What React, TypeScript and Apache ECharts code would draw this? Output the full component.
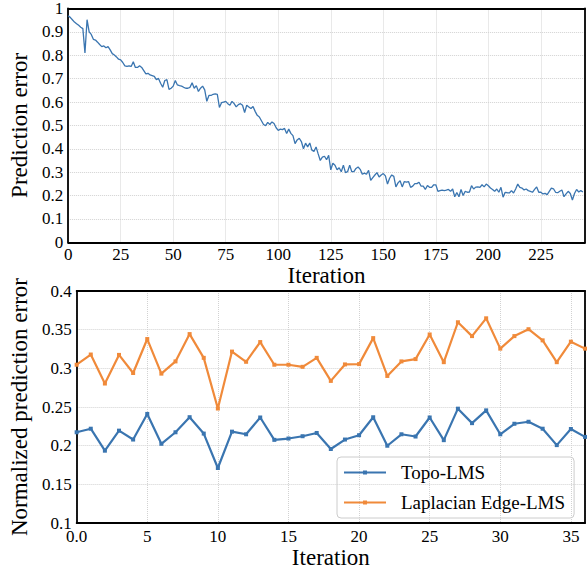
import { useEffect, useRef } from 'react';
import * as echarts from 'echarts';

// Top panel: prediction error per iteration (index = iteration)
const topError = [
  0.969, 0.962, 0.952, 0.942, 0.935, 0.928, 0.92, 0.914, 0.81, 0.952,
  0.9, 0.889, 0.868, 0.865, 0.856, 0.846, 0.837, 0.84, 0.832, 0.837,
  0.823, 0.807, 0.801, 0.793, 0.783, 0.78, 0.769, 0.755, 0.752, 0.755,
  0.752, 0.772, 0.748, 0.748, 0.755, 0.748, 0.734, 0.72, 0.723, 0.716,
  0.713, 0.71, 0.696, 0.701, 0.68, 0.663, 0.692, 0.696, 0.654, 0.659,
  0.668, 0.692, 0.673, 0.67, 0.668, 0.663, 0.659, 0.659, 0.663, 0.682,
  0.659, 0.67, 0.645, 0.659, 0.668, 0.652, 0.603, 0.628, 0.628, 0.633,
  0.635, 0.633, 0.577, 0.597, 0.6, 0.603, 0.593, 0.586, 0.603, 0.593,
  0.579, 0.589, 0.593, 0.586, 0.555, 0.586, 0.579, 0.572, 0.581, 0.56,
  0.543, 0.536, 0.52, 0.504, 0.499, 0.513, 0.504, 0.515, 0.508, 0.49,
  0.479, 0.484, 0.482, 0.487, 0.465, 0.484, 0.466, 0.456, 0.422, 0.438,
  0.445, 0.431, 0.4, 0.424, 0.408, 0.425, 0.394, 0.389, 0.408, 0.378,
  0.35, 0.364, 0.368, 0.353, 0.372, 0.31, 0.338, 0.33, 0.31, 0.319,
  0.302, 0.33, 0.298, 0.302, 0.33, 0.302, 0.302, 0.316, 0.322, 0.312,
  0.291, 0.296, 0.291, 0.308, 0.265, 0.277, 0.288, 0.298, 0.279, 0.288,
  0.294, 0.284, 0.249, 0.274, 0.288, 0.282, 0.237, 0.254, 0.263, 0.237,
  0.26, 0.257, 0.26, 0.235, 0.24, 0.251, 0.251, 0.257, 0.24, 0.24,
  0.226, 0.243, 0.235, 0.235, 0.246, 0.246, 0.218, 0.221, 0.223, 0.221,
  0.223, 0.226, 0.218, 0.228, 0.195, 0.213, 0.195, 0.226, 0.2, 0.218,
  0.214, 0.215, 0.242, 0.228, 0.236, 0.237, 0.235, 0.246, 0.237, 0.249,
  0.242, 0.232, 0.226, 0.218, 0.228, 0.214, 0.235, 0.193, 0.214, 0.212,
  0.211, 0.221, 0.211, 0.228, 0.249, 0.235, 0.232, 0.224, 0.228, 0.221,
  0.218, 0.214, 0.226, 0.237, 0.214, 0.214, 0.207, 0.209, 0.204, 0.218,
  0.232, 0.229, 0.214, 0.212, 0.218, 0.224, 0.195, 0.207, 0.218, 0.209,
  0.181, 0.209, 0.226, 0.215, 0.221, 0.215,
];

// Bottom panel
const bottomIterations = [
  0, 1, 2, 3, 4, 5, 6, 7, 8, 9, 10, 11, 12, 13, 14, 15, 16, 17, 18, 19,
  20, 21, 22, 23, 24, 25, 26, 27, 28, 29, 30, 31, 32, 33, 34, 35, 36,
];
const topoLMS = [
  0.2174, 0.222, 0.1936, 0.2195, 0.208, 0.2411, 0.2025, 0.2174, 0.2369, 0.2157,
  0.1712, 0.2182, 0.2148, 0.2365, 0.2076, 0.2093, 0.2123, 0.2165, 0.1958, 0.208,
  0.2136, 0.2368, 0.2, 0.2148, 0.2119, 0.2365, 0.2072, 0.2479, 0.2292, 0.2457,
  0.2148, 0.2284, 0.231, 0.222, 0.2008, 0.2216, 0.2114,
];
const laplacianEdgeLMS = [
  0.3047, 0.3179, 0.2804, 0.3174, 0.294, 0.3379, 0.2932, 0.309, 0.3443, 0.3136,
  0.2481, 0.3217, 0.3085, 0.334, 0.3047, 0.3047, 0.302, 0.3136, 0.2838, 0.3051,
  0.3055, 0.3391, 0.2902, 0.309, 0.312, 0.3438, 0.308, 0.3596, 0.3417, 0.3647,
  0.3255, 0.3417, 0.3506, 0.3362, 0.308, 0.3345, 0.3255,
];

const BLUE = '#3a75b0';
const ORANGE = '#f08a3a';
const FONT = 'Liberation Serif';

export default function App() {
  const ref = useRef<HTMLDivElement>(null);

  useEffect(() => {
    if (!ref.current) return;
    const chart = echarts.init(ref.current, undefined, { renderer: 'svg' });

    const gridLine = { show: true, lineStyle: { color: '#d2d2d2', type: 'dotted' as const, width: 1 } };
    const axisLabel = { color: '#000', fontFamily: FONT, fontSize: 17, fontWeight: 'normal' as const };
    const frameLine = { show: true, onZero: false, lineStyle: { color: '#000', width: 1.8 } };
    const nameStyle = { color: '#000', fontFamily: FONT, fontSize: 23, fontWeight: 'normal' as const };

    const topSeriesData = topError.map((v, i) => [i, v]);

    chart.setOption({
      animation: false,
      grid: [
        { left: 60, top: 5, right: 1.5, height: 237.3 },
        { left: 60, top: 291, right: 2, height: 236.7 },
      ],
      xAxis: [
        {
          type: 'value', gridIndex: 0, min: 0, max: 246, interval: 25,
          axisLine: frameLine, axisTick: { show: false },
          axisLabel: { ...axisLabel, margin: 4, formatter: (v: number) => (v > 240 ? '' : String(v)) },
          splitLine: gridLine,
          name: 'Iteration', nameLocation: 'middle', nameGap: 19, nameTextStyle: nameStyle,
        },
        {
          type: 'value', gridIndex: 0, position: 'top', min: 0, max: 246,
          axisLine: frameLine, axisTick: { show: false }, axisLabel: { show: false }, splitLine: { show: false },
        },
        {
          type: 'value', gridIndex: 1, min: 0, max: 36, interval: 5,
          axisLine: frameLine, axisTick: { show: false },
          axisLabel: { ...axisLabel, margin: 5, formatter: (v: number) => (v === 0 ? '0.0' : v === 36 ? '' : String(v)) },
          splitLine: gridLine,
          name: 'Iteration', nameLocation: 'middle', nameGap: 20, nameTextStyle: nameStyle,
        },
        {
          type: 'value', gridIndex: 1, position: 'top', min: 0, max: 36,
          axisLine: frameLine, axisTick: { show: false }, axisLabel: { show: false }, splitLine: { show: false },
        },
      ],
      yAxis: [
        {
          type: 'value', gridIndex: 0, min: 0, max: 1, interval: 0.1,
          axisLine: frameLine, axisTick: { show: false },
          axisLabel: { ...axisLabel, margin: 5 },
          splitLine: gridLine,
          name: 'Prediction error', nameLocation: 'middle', nameGap: 31, nameTextStyle: nameStyle,
        },
        {
          type: 'value', gridIndex: 0, position: 'right', min: 0, max: 1,
          axisLine: frameLine, axisTick: { show: false }, axisLabel: { show: false }, splitLine: { show: false },
        },
        {
          type: 'value', gridIndex: 1, min: 0.1, max: 0.4, interval: 0.05,
          axisLine: frameLine, axisTick: { show: false },
          axisLabel: { ...axisLabel, margin: 5, formatter: (v: number) => String(Math.round(v * 100) / 100) },
          splitLine: gridLine,
          name: 'Normalized prediction error', nameLocation: 'middle', nameGap: 31, nameTextStyle: nameStyle,
        },
        {
          type: 'value', gridIndex: 1, position: 'right', min: 0.1, max: 0.4,
          axisLine: frameLine, axisTick: { show: false }, axisLabel: { show: false }, splitLine: { show: false },
        },
      ],
      legend: {
        orient: 'vertical',
        left: 337,
        top: 457,
        padding: [6, 9, 6, 6],
        itemWidth: 42,
        itemHeight: 5,
        itemGap: 11,
        borderColor: '#cccccc',
        borderWidth: 1,
        borderRadius: 4,
        textStyle: { color: '#000', fontFamily: FONT, fontSize: 19, padding: [0, 0, 0, 10] },
        data: ['Topo-LMS', 'Laplacian Edge-LMS'],
      },
      series: [
        {
          type: 'line', name: 'Prediction error', xAxisIndex: 0, yAxisIndex: 0,
          data: topSeriesData, showSymbol: false, symbol: 'none',
          lineStyle: { color: BLUE, width: 1.3 }, itemStyle: { color: BLUE },
        },
        {
          type: 'line', name: 'Topo-LMS', xAxisIndex: 2, yAxisIndex: 2,
          data: bottomIterations.map((x, i) => [x, topoLMS[i]]),
          symbol: 'rect', symbolSize: 4,
          lineStyle: { color: BLUE, width: 2.2 }, itemStyle: { color: BLUE },
        },
        {
          type: 'line', name: 'Laplacian Edge-LMS', xAxisIndex: 2, yAxisIndex: 2,
          data: bottomIterations.map((x, i) => [x, laplacianEdgeLMS[i]]),
          symbol: 'rect', symbolSize: 4,
          lineStyle: { color: ORANGE, width: 2.2 }, itemStyle: { color: ORANGE },
        },
      ],
    });

    return () => chart.dispose();
  }, []);

  return (
    <>
      <style>{`svg text { font-family: "Liberation Serif", "Times New Roman", serif !important; }`}</style>
      <div
        ref={ref}
        style={{ position: 'fixed', left: 0, top: 0, width: 588, height: 570, background: '#fff' }}
      />
    </>
  );
}
